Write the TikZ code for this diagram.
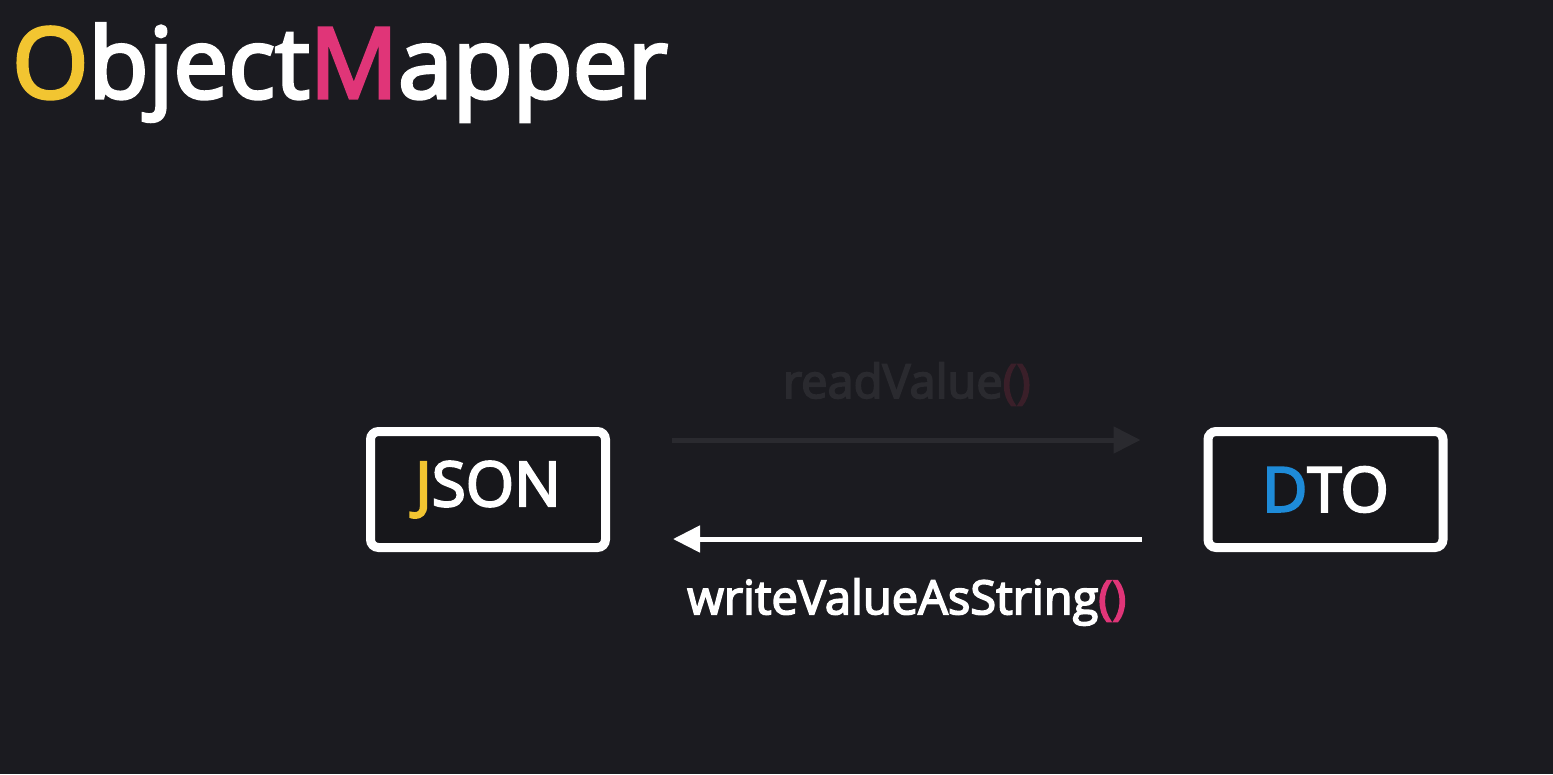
\documentclass[tikz,border=0pt]{standalone}
\usepackage{fontspec}
\setmainfont{Open Sans}[BoldFont={Open Sans},BoldFeatures={FakeBold=3.5}]
\usetikzlibrary{arrows.meta,positioning}
\definecolor{bg}{HTML}{1B1B20}
\definecolor{boxfill}{HTML}{17171B}
\definecolor{oyellow}{HTML}{F2C531}
\definecolor{mpink}{HTML}{E03578}
\definecolor{dblue}{HTML}{1E8BD8}
\definecolor{faint}{HTML}{2A2A2F}
\definecolor{faintpink}{HTML}{3A1F29}
\begin{document}
\begin{tikzpicture}[x=1pt,y=-1pt,
	box/.style={draw=white,line width=9pt,rounded corners=8pt,fill=boxfill,minimum width=235pt,minimum height=116pt,inner sep=0pt,text=white,font=\fontsize{62}{62}\selectfont\bfseries},
	flow/.style={line width=5pt,-{Triangle[length=27pt,width=26pt]},shorten >=63pt,shorten <=62pt},
	lbl/.style={inner sep=0pt,font=\fontsize{47}{47}\selectfont\bfseries}]
\fill[bg] (0,0) rectangle (1553,774);
\useasboundingbox (0,0) rectangle (1553,774);
% title
\node[anchor=base west,inner sep=0pt,text=white,font=\fontsize{98}{98}\selectfont\bfseries] (title) at (12,98) {{\color{oyellow}O}bject{\color{mpink}M}apper};
% boxes
\node[box] (json) at (488,489.5) {{\color{oyellow}J}SON};
\node[box] (dto) at (1325.5,489.5) {{\color{dblue}D}TO};
% readValue (faded)
\draw[flow,draw=faint,fill=faint] ([yshift=49.5pt]json.east) -- ([yshift=49.5pt]dto.west)
	node[midway,above=32pt,lbl,text=faint] (read) {readValue{\color{faintpink}()}};
% writeValueAsString
\draw[flow,draw=white,fill=white] ([yshift=-49.5pt]dto.west) -- ([yshift=-49.5pt]json.east)
	node[midway,below=37pt,lbl,text=white] (write) {writeValueAsString{\color{mpink}()}};
\end{tikzpicture}
\end{document}
